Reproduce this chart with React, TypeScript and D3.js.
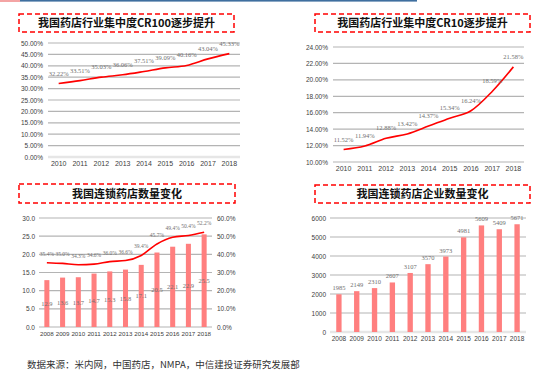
import * as d3 from 'd3';

const yearsA = ['2010', '2011', '2012', '2013', '2014', '2015', '2016', '2017', '2018'];
const yearsB = ['2008', '2009', '2010', '2011', '2012', '2013', '2014', '2015', '2016', '2017', '2018'];

const cr100 = [32.22, 33.51, 35.03, 36.06, 37.51, 39.09, 40.16, 43.04, 45.33];
const cr10 = [11.52, 11.94, 12.88, 13.42, 14.37, 15.34, 16.24, 18.59, 21.58];
const chainStores = [12.9, 13.6, 13.7, 14.7, 15.3, 15.8, 17.1, 20.5, 22.1, 22.9, 25.5];
const chainRate = [35.4, 35.0, 34.3, 34.6, 36.0, 36.6, 39.4, 45.7, 49.4, 50.4, 52.2];
const chainCompanies = [1985, 2149, 2310, 2607, 3107, 3570, 3973, 4981, 5609, 5409, 5671];

const titles = [
  '我国药店行业集中度CR100逐步提升',
  '我国药店行业集中度CR10逐步提升',
  '我国连锁药店数量变化',
  '我国连锁药店企业数量变化',
];
const source = '数据来源：米内网，中国药店，NMPA，中信建投证券研究发展部';

const SANS = 'Liberation Sans, Arial, sans-serif';
const CJK = '"Noto Sans CJK SC", sans-serif';
const SERIF = 'Liberation Serif, "DejaVu Serif", serif';
const RED = '#ff0000';
const BAR = '#ff7f7f';
const GRID = '#b4b4b4';
const TICK = '#404040';
const LABEL = '#707070';

function TitleBox({ x0, x1, y0, y1, text }: { x0: number; x1: number; y0: number; y1: number; text: string }) {
  return (
    <g>
      <rect x={x0} y={y0} width={x1 - x0} height={y1 - y0} fill="none" stroke={RED} strokeWidth={1.5} strokeDasharray="5,3" />
      <text x={(x0 + x1) / 2} y={(y0 + y1) / 2 + 4} textAnchor="middle" fontFamily={CJK} fontWeight={700} fontSize={11} fill="#111">
        {text}
      </text>
    </g>
  );
}

function Grid({ y, ticks, x0, x1, fmt, labelX, anchor = 'end', baseLight = false }: any) {
  return (
    <g>
      {ticks.map((t: number, i: number) => (
        <g key={i}>
          <line
            x1={x0}
            x2={x1}
            y1={y(t)}
            y2={y(t)}
            stroke={baseLight && i === 0 ? '#e6e6e6' : GRID}
            strokeWidth={baseLight && i === 0 ? 2.5 : 1.2}
          />
          <text x={labelX} y={y(t) + 2.5} textAnchor={anchor} fontFamily={SANS} fontSize={6.5} fill={TICK}>
            {fmt(t)}
          </text>
        </g>
      ))}
    </g>
  );
}

function XLabels({ x, cats, y, size = 7 }: any) {
  return (
    <g>
      {cats.map((c: string) => (
        <text key={c} x={(x(c) ?? 0) + x.bandwidth() / 2} y={y} textAnchor="middle" fontFamily={SANS} fontSize={size} fill={TICK}>
          {c}
        </text>
      ))}
    </g>
  );
}

function LinePanel({ cats, values, x0, x1, yTop, yBot, dom, step, labelX, xLabelY }: any) {
  const x = d3.scaleBand().domain(cats).range([x0, x1]);
  const y = d3.scaleLinear().domain(dom).range([yBot, yTop]);
  const ticks = d3.range(dom[0], dom[1] + step / 2, step);
  const cx = (i: number) => (x(cats[i]) ?? 0) + x.bandwidth() / 2;
  const line = d3.line<number>().x((_, i) => cx(i)).y((d) => y(d)).curve(d3.curveMonotoneX);
  return (
    <g>
      <Grid y={y} ticks={ticks} x0={x0} x1={x1} fmt={(t: number) => t.toFixed(2) + '%'} labelX={labelX} baseLight={dom[0] === 0} />
      <XLabels x={x} cats={cats} y={xLabelY} />
      <path d={line(values) ?? ''} fill="none" stroke={RED} strokeWidth={1.6} />
      {values.map((v: number, i: number) => (
        <text key={i} x={cx(i)} y={y(v) - 8} textAnchor="middle" fontFamily={SERIF} fontSize={6.5} fill={LABEL}>
          {v.toFixed(2) + '%'}
        </text>
      ))}
    </g>
  );
}

export default function App() {
  // panel 3 scales
  const x3 = d3.scaleBand().domain(yearsB).range([39, 212]).paddingInner(0.68).paddingOuter(0.34);
  const y3 = d3.scaleLinear().domain([0, 30]).range([327, 218]);
  const y3r = d3.scaleLinear().domain([0, 60]).range([327, 218]);
  const c3 = (i: number) => (x3(yearsB[i]) ?? 0) + x3.bandwidth() / 2;
  const rateLine = d3.line<number>().x((_, i) => c3(i)).y((d) => y3r(d)).curve(d3.curveMonotoneX);

  // panel 4 scales
  const x4 = d3.scaleBand().domain(yearsB).range([330, 526]).paddingInner(0.7).paddingOuter(0.35);
  const y4 = d3.scaleLinear().domain([0, 6000]).range([332, 218]);
  const c4 = (i: number) => (x4(yearsB[i]) ?? 0) + x4.bandwidth() / 2;

  return (
    <svg width={554} height={374} style={{ position: 'absolute', left: 0, top: 0, background: '#fff' }}>
      {/* top strip */}
      <rect x={0} y={0} width={20} height={2} fill="#f4a4a4" />
      <rect x={20} y={0} width={397} height={1.6} fill="#3f6f9f" />

      <TitleBox x0={19} x1={234} y0={14} y1={32} text={titles[0]} />
      <TitleBox x0={315} x1={530} y0={14} y1={32} text={titles[1]} />
      <TitleBox x0={19} x1={235} y0={184} y1={203} text={titles[2]} />
      <TitleBox x0={315} x1={530} y0={185} y1={203} text={titles[3]} />

      <LinePanel cats={yearsA} values={cr100} x0={48} x1={240} yTop={43} yBot={157} dom={[0, 50]} step={5} labelX={43} xLabelY={166} />
      <LinePanel cats={yearsA} values={cr10} x0={333} x1={524} yTop={47} yBot={162} dom={[10, 24]} step={2} labelX={328} xLabelY={171} />

      {/* panel 3 */}
      <Grid y={y3} ticks={d3.range(0, 31, 5)} x0={39} x1={212} fmt={(t: number) => t.toFixed(1)} labelX={35} />
      {d3.range(0, 61, 10).map((t) => (
        <text key={t} x={217} y={y3r(t) + 2.5} fontFamily={SANS} fontSize={6.5} fill={TICK}>
          {t.toFixed(1) + '%'}
        </text>
      ))}
      {chainStores.map((v, i) => (
        <rect key={i} x={x3(yearsB[i])} y={y3(v)} width={x3.bandwidth()} height={y3(0) - y3(v)} fill={BAR} />
      ))}
      {chainStores.map((v, i) => (
        <text key={i} x={c3(i)} y={(y3(v) + y3(0)) / 2 + 2.5} textAnchor="middle" fontFamily={SERIF} fontSize={6.5} fill={LABEL}>
          {v.toFixed(1)}
        </text>
      ))}
      <path d={rateLine(chainRate) ?? ''} fill="none" stroke={RED} strokeWidth={1.6} />
      {chainRate.map((v, i) => (
        <text key={i} x={c3(i)} y={y3r(v) - 7} textAnchor="middle" fontFamily={SERIF} fontSize={5.5} fill={LABEL}>
          {v.toFixed(1) + '%'}
        </text>
      ))}
      <XLabels x={x3} cats={yearsB} y={336} size={6.2} />

      {/* panel 4 */}
      <Grid y={y4} ticks={d3.range(0, 6001, 1000)} x0={330} x1={526} fmt={(t: number) => String(t)} labelX={326} baseLight />
      {chainCompanies.map((v, i) => (
        <rect key={i} x={x4(yearsB[i])} y={y4(v)} width={x4.bandwidth()} height={y4(0) - y4(v)} fill={BAR} />
      ))}
      {chainCompanies.map((v, i) => (
        <text key={i} x={c4(i)} y={y4(v) - 4} textAnchor="middle" fontFamily={SERIF} fontSize={6.5} fill={LABEL}>
          {v}
        </text>
      ))}
      <XLabels x={x4} cats={yearsB} y={341} size={6.5} />

      <text x={27} y={368} fontFamily={CJK} fontSize={9.5} fill="#333">
        {source}
      </text>
    </svg>
  );
}
